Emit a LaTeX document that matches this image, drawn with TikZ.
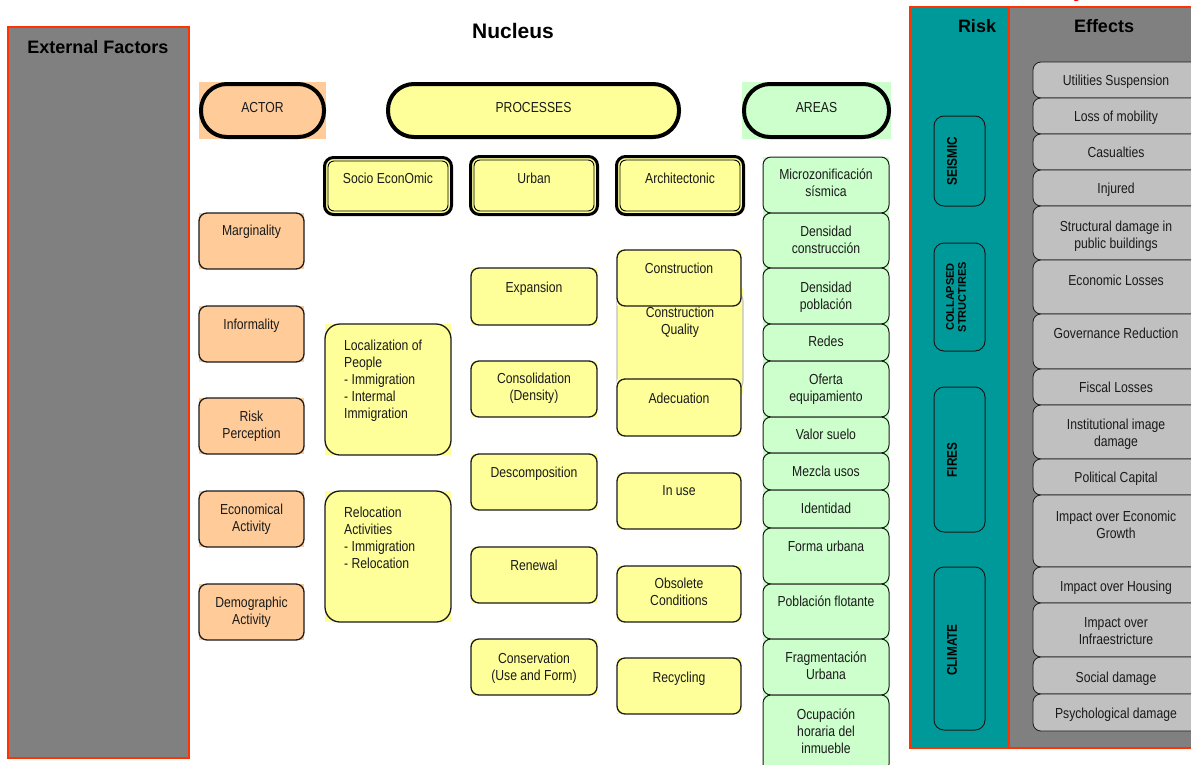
\documentclass[tikz,border=0pt]{standalone}
\usepackage{fontspec}
\setmainfont{Liberation Sans}
\newfontfamily\nf[FakeStretch=0.84]{Liberation Sans}
\definecolor{peach}{HTML}{FFCC99}
\definecolor{lyel}{HTML}{FFFF99}
\definecolor{lgrn}{HTML}{CCFFCC}
\definecolor{panelgray}{HTML}{808080}
\definecolor{lgray}{HTML}{C0C0C0}
\definecolor{riskteal}{HTML}{009999}
\definecolor{bord}{HTML}{FF3300}
\definecolor{ink}{HTML}{1A1A1A}
\tikzset{
  txt/.style={font=\nf\fontsize{14.5}{17}\selectfont, inner sep=0pt, align=center, text=ink},
  ttl/.style={font=\bfseries\fontsize{18}{20}\selectfont, inner sep=0pt, text=black},
  panel/.style={draw=bord, line width=2pt, inner sep=0pt},
  actbox/.style={draw=ink, line width=1.3pt, fill=peach, rounded corners=8pt, inner sep=0pt},
  yelbox/.style={draw=ink, line width=1.3pt, fill=lyel, rounded corners=8pt, inner sep=0pt},
  locbox/.style={draw=ink, line width=1.3pt, fill=lyel, rounded corners=15pt, inner sep=0pt},
  cqbox/.style={draw=lgray, line width=1.2pt, fill=lyel, rounded corners=14pt, inner sep=0pt},
  hdrbox/.style={draw=black, line width=3pt, fill=lyel, rounded corners=9pt, inner sep=0pt},
  areabox/.style={draw=ink, line width=1pt, fill=lgrn, rounded corners=8pt, inner sep=0pt},
  effbox/.style={draw=ink, line width=0.8pt, fill=lgray, rounded corners=8pt, inner sep=0pt},
  riskbox/.style={draw=ink, line width=1pt, fill=riskteal, rounded corners=10pt, inner sep=0pt},
  risktxt/.style={font=\nf\bfseries\fontsize{14}{16}\selectfont, inner sep=0pt, align=center, text=black, rotate=90},
  pillA/.style={draw=black, line width=4pt, fill=peach, rounded corners=26pt, inner sep=0pt},
  pillP/.style={draw=black, line width=4pt, fill=lyel, rounded corners=26pt, inner sep=0pt},
  pillG/.style={draw=black, line width=4pt, fill=lgrn, rounded corners=26pt, inner sep=0pt},
}
% box only: name, style, left, top, right, bottom, background colour
\newcommand\bxo[7]{%
  \fill[#7] (#3,#4) rectangle (#5,#6);
  \node[#2, minimum width={#5-#3}, minimum height={#6-#4}] (#1) at ({(#3+#5)/2},{(#4+#6)/2}) {};
}
% box with text: name, style, left, top, right, bottom, first-line y, text, background colour
\newcommand\bx[9]{%
  \bxo{#1}{#2}{#3}{#4}{#5}{#6}{#9}
  \node[txt, anchor=north] (#1-t) at ({(#3+#5)/2},{#7-5.5}) {#8};
}
\newcommand\hdr[6]{%
  \bx{#1}{hdrbox}{#2}{#3}{#4}{#5}{178}{#6}{white}
  \draw[line width=0.9pt, rounded corners=6pt] ([xshift=5pt,yshift=-5pt]#1.north west) rectangle ([xshift=-5pt,yshift=5pt]#1.south east);
}
\begin{document}
\begin{tikzpicture}[x=1pt,y=-1pt]
\useasboundingbox (0,0) rectangle (1191,764);
\fill[white] (0,0) rectangle (1191,764);

% ---------- External factors ----------
\node[panel, fill=panelgray, minimum width=181, minimum height=731] (ext) at (98.5,392.5) {};
\node[ttl] (extT) at (98,47) {External Factors};

% ---------- Nucleus ----------
\node[ttl, font=\bfseries\fontsize{21}{24}\selectfont] (nuc) at (513,31) {Nucleus};

\fill[peach] (199,82) rectangle (326,139);
\bxo{actor}{pillA}{201}{84}{324}{137}{peach}
\node[txt] (actorT) at (262.5,108) {ACTOR};
\bx{proc}{pillP}{388}{84}{679}{137}{108}{PROCESSES}{white}
\fill[lgrn] (742,82) rectangle (891,139);
\bxo{areas}{pillG}{744}{84}{889}{137}{lgrn}
\node[txt] (areasT) at (816.5,108) {AREAS};

% headers
\hdr{soc}{324.5}{157.5}{451.5}{214.5}{Socio EconOmic}
\hdr{urb}{470.5}{156.5}{597.5}{214.5}{Urban}
\hdr{arc}{616.5}{156.5}{743.5}{214.5}{Architectonic}

% actors
\bx{marg}{actbox}{199}{213}{304}{269}{230}{Marginality}{peach}
\bx{info}{actbox}{199}{306}{304}{362}{324}{Informality}{peach}
\bx{riskp}{actbox}{199}{398}{304}{454}{416}{Risk\\Perception}{peach}
\bx{econ}{actbox}{199}{491}{304}{547}{509}{Economical\\Activity}{peach}
\bx{demo}{actbox}{199}{584}{304}{640}{602}{Demographic\\Activity}{peach}

% socio economic
\bxo{loc}{locbox}{325}{324}{451}{455}{lyel}
\node[txt, align=left, anchor=north west] (locT) at (344,339.5) {Localization of\\People\\- Immigration\\- Intermal\\Immigration};
\bxo{rel}{locbox}{325}{491}{451}{622}{lyel}
\node[txt, align=left, anchor=north west] (relT) at (344,506.5) {Relocation\\Activities\\- Immigration\\- Relocation};

% urban
\bx{expa}{yelbox}{471}{268}{597}{325}{287}{Expansion}{lyel}
\bx{cons}{yelbox}{471}{361}{597}{417}{378}{Consolidation\\(Density)}{lyel}
\bx{desc}{yelbox}{471}{454}{597}{510}{472}{Descomposition}{lyel}
\bx{rene}{yelbox}{471}{547}{597}{603}{565}{Renewal}{lyel}
\bx{cnsv}{yelbox}{471}{639}{597}{695}{658}{Conservation\\(Use and Form)}{lyel}

% architectonic
\bx{cq}{cqbox}{617}{288}{743}{394}{312}{Construction\\Quality}{lyel}
\bx{cstr}{yelbox}{617}{250}{741}{306}{268}{Construction}{lyel}
\bx{adec}{yelbox}{617}{379}{741}{436}{398}{Adecuation}{lyel}
\bx{inuse}{yelbox}{617}{473}{741}{529}{491}{In use}{lyel}
\bx{obso}{yelbox}{617}{566}{741}{622}{583}{Obsolete\\Conditions}{lyel}
\bx{recy}{yelbox}{617}{658}{741}{714}{677}{Recycling}{lyel}

% areas
\fill[lgrn] (763,157) rectangle (889,764);
\bx{a1}{areabox}{763}{157}{889}{213}{174}{Microzonificación\\sísmica}{lgrn}
\bx{a2}{areabox}{763}{213}{889}{268}{231}{Densidad\\construcción}{lgrn}
\bx{a3}{areabox}{763}{268}{889}{324}{287}{Densidad\\población}{lgrn}
\bx{a4}{areabox}{763}{324}{889}{361}{341}{Redes}{lgrn}
\bx{a5}{areabox}{763}{361}{889}{417}{379}{Oferta\\equipamiento}{lgrn}
\bx{a6}{areabox}{763}{417}{889}{453}{434}{Valor suelo}{lgrn}
\bx{a7}{areabox}{763}{453}{889}{490}{471}{Mezcla usos}{lgrn}
\bx{a8}{areabox}{763}{490}{889}{528}{508}{Identidad}{lgrn}
\bx{a9}{areabox}{763}{528}{889}{584}{546}{Forma urbana}{lgrn}
\bx{a10}{areabox}{763}{584}{889}{639}{601}{Población flotante}{lgrn}
\bx{a11}{areabox}{763}{639}{889}{695}{657}{Fragmentación\\Urbana}{lgrn}
\bx{a12}{areabox}{763}{695}{889}{772}{714}{Ocupación\\horaria del\\inmueble}{lgrn}

% ---------- Risk / Effects panel ----------
\fill[riskteal] (910,7) rectangle (1009,748);
\fill[panelgray] (1009,7) rectangle (1200,748);
\node[panel, minimum width=290, minimum height=741] (rpanel) at (1055,377.5) {};
\draw[bord, line width=2pt] (rpanel.north -| 1009,0) -- (rpanel.south -| 1009,0);
\node[ttl] (riskT) at (977,26) {Risk};
\node[ttl] (effT) at (1104,26) {Effects};
\begin{scope}
\clip (0,0) rectangle (1191,764);
\node[anchor=base, text=red, font=\bfseries\fontsize{20}{24}\selectfont, inner sep=0pt] (redy) at (1079,-3) {y};
\end{scope}

% risks
\bxo{seis}{riskbox}{934}{116}{985}{206}{riskteal}
\node[risktxt] (seisT) at (952,161) {SEISMIC};
\bxo{coll}{riskbox}{934}{243}{985}{351}{riskteal}
\node[risktxt, font=\bfseries\fontsize{11}{12}\selectfont] (collT) at (956,297) {COLLAPSED\\STRUCTIRES};
\bxo{fire}{riskbox}{934}{387}{985}{532}{riskteal}
\node[risktxt] (fireT) at (952,460) {FIRES};
\bxo{clim}{riskbox}{934}{567}{985}{730}{riskteal}
\node[risktxt] (climT) at (952,650) {CLIMATE};

% effects
\bx{e1}{effbox}{1033}{62}{1199}{98}{80}{Utilities Suspension}{panelgray}
\bx{e2}{effbox}{1033}{98}{1199}{134}{116}{Loss of mobility}{panelgray}
\bx{e3}{effbox}{1033}{134}{1199}{170}{152}{Casualties}{panelgray}
\bx{e4}{effbox}{1033}{170}{1199}{206}{188}{Injured}{panelgray}
\bx{e5}{effbox}{1033}{206}{1199}{260}{226}{Structural damage in\\public buildings}{panelgray}
\bx{e6}{effbox}{1033}{260}{1199}{314}{280}{Economic Losses}{panelgray}
\bx{e7}{effbox}{1033}{314}{1199}{369}{333}{Governance Reduction}{panelgray}
\bx{e8}{effbox}{1033}{369}{1199}{405}{387}{Fiscal Losses}{panelgray}
\bx{e9}{effbox}{1033}{405}{1199}{459}{424}{Institutional image\\damage}{panelgray}
\bx{e10}{effbox}{1033}{459}{1199}{495}{477}{Political Capital}{panelgray}
\bx{e11}{effbox}{1033}{495}{1199}{567}{516}{Impact over Economic\\Growth}{panelgray}
\bx{e12}{effbox}{1033}{567}{1199}{603}{586}{Impact over Housing}{panelgray}
\bx{e13}{effbox}{1033}{603}{1199}{657}{623}{Impact over\\Infraestricture}{panelgray}
\bx{e14}{effbox}{1033}{657}{1199}{694}{677}{Social damage}{panelgray}
\bx{e15}{effbox}{1033}{694}{1199}{731}{713}{Psychological damage}{panelgray}
\end{tikzpicture}
\end{document}
